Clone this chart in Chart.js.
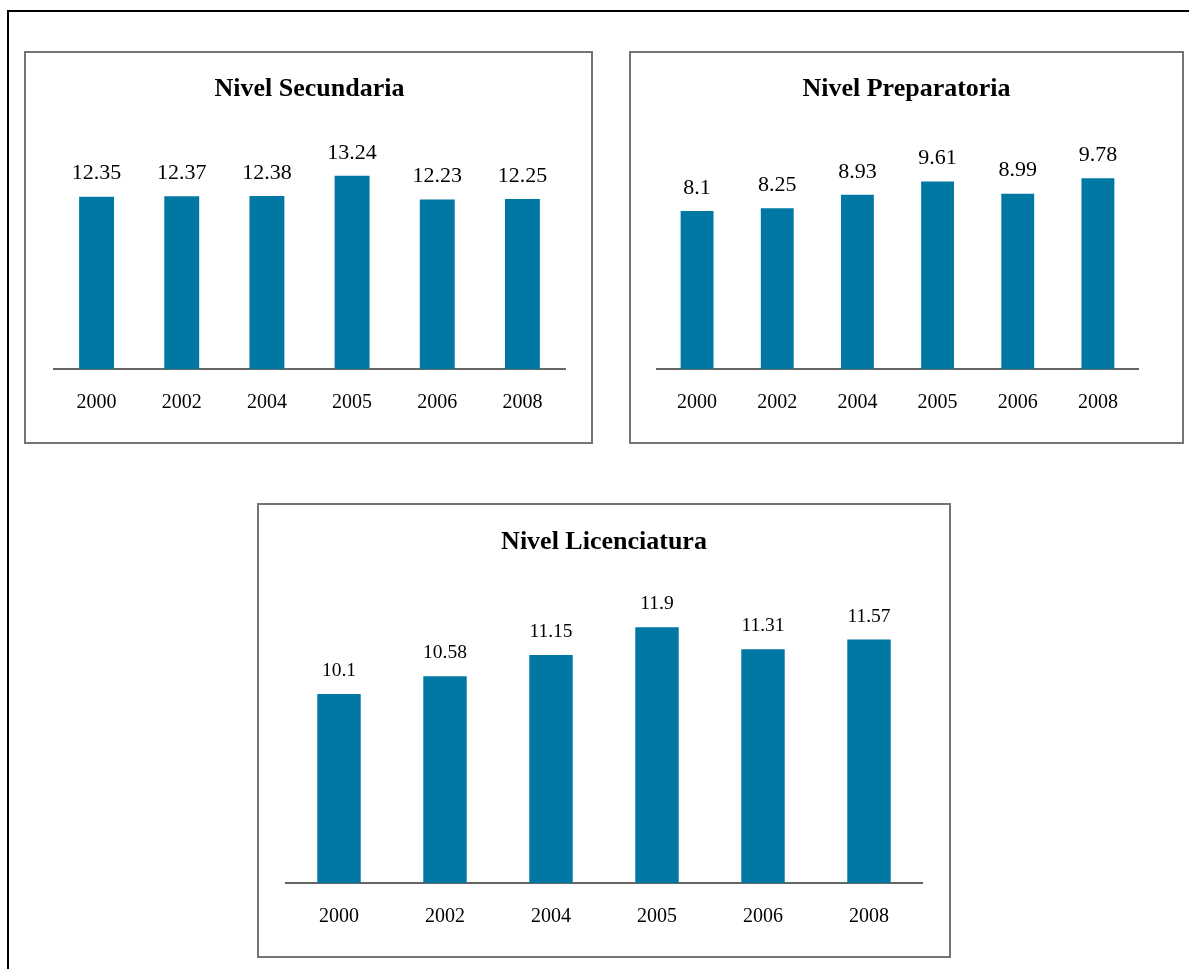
<!DOCTYPE html>
<html>
<head>
<meta charset="utf-8">
<script src="https://cdn.jsdelivr.net/npm/chart.js@4/dist/chart.umd.min.js"></script>
<style>
  body { margin: 0; background: #fff; width: 1189px; height: 969px; overflow: hidden; position: relative; }
  .frame { position: absolute; left: 7px; top: 10px; width: 1250px; height: 1050px; border: 2px solid #000; box-sizing: border-box; }
  .panel { position: absolute; border: 2px solid #747474; box-sizing: border-box; background: #fff; }
  .panel canvas { display: block; }
</style>
</head>
<body>
<div class="frame"></div>
<div class="panel" style="left:24px; top:51px; width:569px; height:393px;"><canvas id="chart-sec" width="565" height="389"></canvas></div>
<div class="panel" style="left:629px; top:51px; width:555px; height:393px;"><canvas id="chart-prep" width="551" height="389"></canvas></div>
<div class="panel" style="left:257px; top:503px; width:694px; height:455px;"><canvas id="chart-lic" width="690" height="451"></canvas></div>

<script>
// Años (categorías)
const years = ['2000', '2002', '2004', '2005', '2006', '2008'];

// Valores por nivel
const secundaria = [12.35, 12.37, 12.38, 13.24, 12.23, 12.25];
const preparatoria = [8.1, 8.25, 8.93, 9.61, 8.99, 9.78];
const licenciatura = [10.1, 10.58, 11.15, 11.9, 11.31, 11.57];

const barColor = '#0078a3';
const serif = "'Liberation Serif', 'Times New Roman', serif";

// Etiquetas de valor sobre cada barra
const valueLabels = {
    id: 'valueLabels',
    afterDatasetsDraw(chart, args, opts) {
        const ctx = chart.ctx;
        const meta = chart.getDatasetMeta(0);
        const values = chart.data.datasets[0].data;
        ctx.save();
        ctx.font = opts.size + 'px ' + serif;
        ctx.fillStyle = '#000';
        ctx.textAlign = 'center';
        ctx.textBaseline = 'middle';
        meta.data.forEach((bar, i) => {
            ctx.fillText(String(values[i]), bar.x, bar.y - opts.offset);
        });
        ctx.restore();
    }
};

function makeChart(id, title, values, cfg) {
    const ctx = document.getElementById(id).getContext('2d');
    return new Chart(ctx, {
        type: 'bar',
        data: {
            labels: years,
            datasets: [{
                data: values,
                backgroundColor: barColor,
                borderWidth: 0,
                barPercentage: 0.41,
                categoryPercentage: 1
            }]
        },
        options: {
            responsive: false,
            animation: false,
            layout: { padding: { left: cfg.padL, right: cfg.padR, top: 0, bottom: 0 } },
            scales: {
                x: {
                    grid: { display: false, drawTicks: false },
                    border: { display: true, color: '#666', width: 2 },
                    ticks: { color: '#000', padding: 22, font: { family: serif, size: 20 } },
                    afterFit: s => { s.height = 73; }
                },
                y: {
                    display: cfg.yWidth > 0,
                    position: 'right',
                    min: cfg.min,
                    max: cfg.max,
                    grid: { display: false, drawTicks: false },
                    border: { display: false },
                    ticks: { display: false },
                    afterFit: s => { s.width = cfg.yWidth; }
                }
            },
            plugins: {
                legend: { display: false },
                tooltip: { enabled: false },
                title: {
                    display: true,
                    text: title,
                    color: '#000',
                    font: { family: serif, size: 26, weight: 'bold' },
                    padding: { top: cfg.titleTop, bottom: cfg.titleBottom }
                },
                valueLabels: { size: cfg.labelSize, offset: 23 }
            }
        },
        plugins: [valueLabels]
    });
}

makeChart('chart-sec', 'Nivel Secundaria', secundaria,
    { padL: 28, padR: 26, yWidth: 0, min: 5, max: 14, titleTop: 20.4, titleBottom: 53.4, labelSize: 22 });
makeChart('chart-prep', 'Nivel Preparatoria', preparatoria,
    { padL: 26, padR: 26, yWidth: 18, min: 0, max: 12, titleTop: 20.4, titleBottom: 30.4, labelSize: 22 });
makeChart('chart-lic', 'Nivel Licenciatura', licenciatura,
    { padL: 27, padR: 27, yWidth: 0, min: 5, max: 13, titleTop: 21.4, titleBottom: 28.9, labelSize: 19.5 });
</script>
</body>
</html>
